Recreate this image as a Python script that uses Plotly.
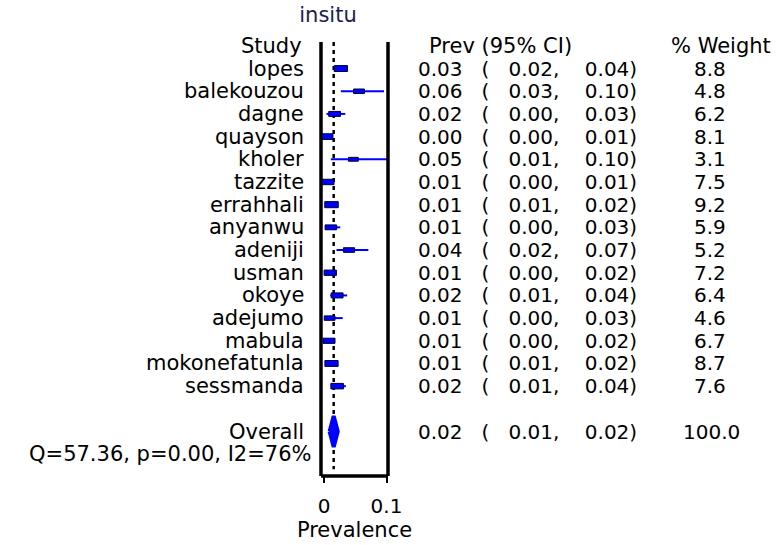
import plotly.graph_objects as go

# ---------------- data ----------------
studies = ["lopes", "balekouzou", "dagne", "quayson", "kholer", "tazzite", "errahhali",
           "anyanwu", "adeniji", "usman", "okoye", "adejumo", "mabula", "mokonefatunla",
           "sessmanda"]
prev_est = [0.027, 0.056, 0.017, 0.004, 0.047, 0.006, 0.012, 0.011, 0.040, 0.010,
            0.021, 0.009, 0.008, 0.012, 0.021]
prev_lci = [0.021, 0.027, 0.004, 0.001, 0.011, 0.002, 0.008, 0.003, 0.020, 0.004,
            0.010, 0.002, 0.003, 0.008, 0.012]
prev_uci = [0.035, 0.096, 0.034, 0.009, 0.104, 0.011, 0.018, 0.026, 0.071, 0.018,
            0.037, 0.030, 0.017, 0.019, 0.035]
lab_est = ["0.03", "0.06", "0.02", "0.00", "0.05", "0.01", "0.01", "0.01", "0.04", "0.01",
           "0.02", "0.01", "0.01", "0.01", "0.02"]
lab_lci = ["0.02", "0.03", "0.00", "0.00", "0.01", "0.00", "0.01", "0.00", "0.02", "0.00",
           "0.01", "0.00", "0.00", "0.01", "0.01"]
lab_uci = ["0.04", "0.10", "0.03", "0.01", "0.10", "0.01", "0.02", "0.03", "0.07", "0.02",
           "0.04", "0.03", "0.02", "0.02", "0.04"]
weights = [8.8, 4.8, 6.2, 8.1, 3.1, 7.5, 9.2, 5.9, 5.2, 7.2, 6.4, 4.6, 6.7, 8.7, 7.6]

overall_est, overall_lci, overall_uci = 0.0155, 0.009, 0.022
overall_lab = ("0.02", "0.01", "0.02")
overall_weight = "100.0"
heterogeneity = "Q=57.36, p=0.00, I2=76%"
x_ticks = [0, 0.1]
x_tick_labels = ["0", "0.1"]

# ---------------- layout helpers ----------------
FONT = "DejaVu Sans, Verdana, sans-serif"
FS_NUM = 20     # numbers
FS_TXT = 21     # words
BLUE = "#0000ff"
rows = list(range(1, len(studies) + 1))
row_overall = len(studies) + 2
row_q = row_overall + 1
y_top, y_bot = -0.17, 18.96

PL, PR = 321, 388          # plot area, pixels
def px(p):                 # pixel x -> paper x
    return (p - PL) / (PR - PL)

fig = go.Figure()

# dotted reference line at overall estimate
fig.add_trace(go.Scatter(x=[overall_est, overall_est], y=[y_top, 18.66], mode="lines",
                         line=dict(color="black", width=2.5, dash="4px,4px"),
                         hoverinfo="skip", showlegend=False))

# CI lines
cx, cy = [], []
for r, lo, hi in zip(rows, prev_lci, prev_uci):
    cx += [lo, hi, None]
    cy += [r, r, None]
fig.add_trace(go.Scatter(x=cx, y=cy, mode="lines", line=dict(color=BLUE, width=2),
                         hoverinfo="skip", showlegend=False))

# weight boxes
for r, e, w in zip(rows, prev_est, weights):
    hw = (4.0 + 0.3 * w) / 625.0
    hh = 0.06 + 0.008 * w
    fig.add_shape(type="rect", xref="x", yref="y", x0=e - hw, x1=e + hw, y0=r - hh, y1=r + hh,
                  fillcolor=BLUE, line=dict(color="#000033", width=1), layer="above")

# overall diamond
fig.add_trace(go.Scatter(
    x=[overall_lci, overall_est, overall_uci, overall_est, overall_lci],
    y=[row_overall, row_overall - 0.68, row_overall, row_overall + 0.68, row_overall],
    mode="lines", fill="toself", fillcolor=BLUE, line=dict(color=BLUE, width=4),
    hoverinfo="skip", showlegend=False))

# frame (left, right, bottom)
for sh in [dict(x0=0, x1=0, y0=0, y1=1), dict(x0=1, x1=1, y0=0, y1=1),
           dict(x0=0, x1=1, y0=0, y1=0)]:
    fig.add_shape(type="line", xref="paper", yref="paper", line=dict(color="black", width=3.5),
                  layer="above", **sh)

# text columns
def ann(text, xpix, y, anchor, size, color="black"):
    fig.add_annotation(text=text, x=px(xpix), y=y, xref="paper", yref="y", xanchor=anchor,
                       yanchor="middle", showarrow=False, borderpad=0,
                       font=dict(family=FONT, size=size, color=color))

NB = "\u00a0"
def ci_text(a, b, c):
    return f"{a}{NB*3}({NB*3}{b},{NB*4}{c})"

ann("Study", 303, 0, "right", FS_TXT)
ann("Prev (95% CI)", 428, 0, "left", FS_TXT)
ann("% Weight", 721, 0, "center", FS_TXT)
for r, s, a, b, c, w in zip(rows, studies, lab_est, lab_lci, lab_uci, weights):
    ann(s, 305, r, "right", FS_TXT)
    ann(ci_text(a, b, c), 417, r, "left", FS_NUM)
    ann(f"{w:.1f}", 710, r, "center", FS_NUM)
ann("Overall", 305, row_overall, "right", FS_TXT)
ann(ci_text(*overall_lab), 417, row_overall, "left", FS_NUM)
ann(overall_weight, 711, row_overall, "center", FS_NUM)
ann(heterogeneity, 312, row_q, "right", FS_TXT)

fig.update_layout(
    width=779, height=545,
    margin=dict(l=PL, r=779 - PR, t=42, b=60, pad=0),
    paper_bgcolor="white", plot_bgcolor="white",
    showlegend=False,
    title=dict(text="insitu", x=328 / 779, xanchor="center", y=1 - 15 / 545, yanchor="middle",
               font=dict(family=FONT, size=FS_TXT, color="#202050")),
    xaxis=dict(range=[-0.0048, 0.1024], tickvals=x_ticks, ticktext=x_tick_labels,
               ticks="outside", ticklen=6, tickwidth=1.5, tickcolor="black",
               ticklabelstandoff=6,
               showgrid=False, zeroline=False, showline=False,
               tickfont=dict(family=FONT, size=FS_NUM, color="black"),
               title=dict(text="Prevalence", standoff=0,
                          font=dict(family=FONT, size=FS_TXT, color="black"))),
    yaxis=dict(range=[y_bot, y_top], visible=False),
)

fig.write_html("out.html", config={"displayModeBar": False},
               post_script="document.body.style.margin='0px';")
